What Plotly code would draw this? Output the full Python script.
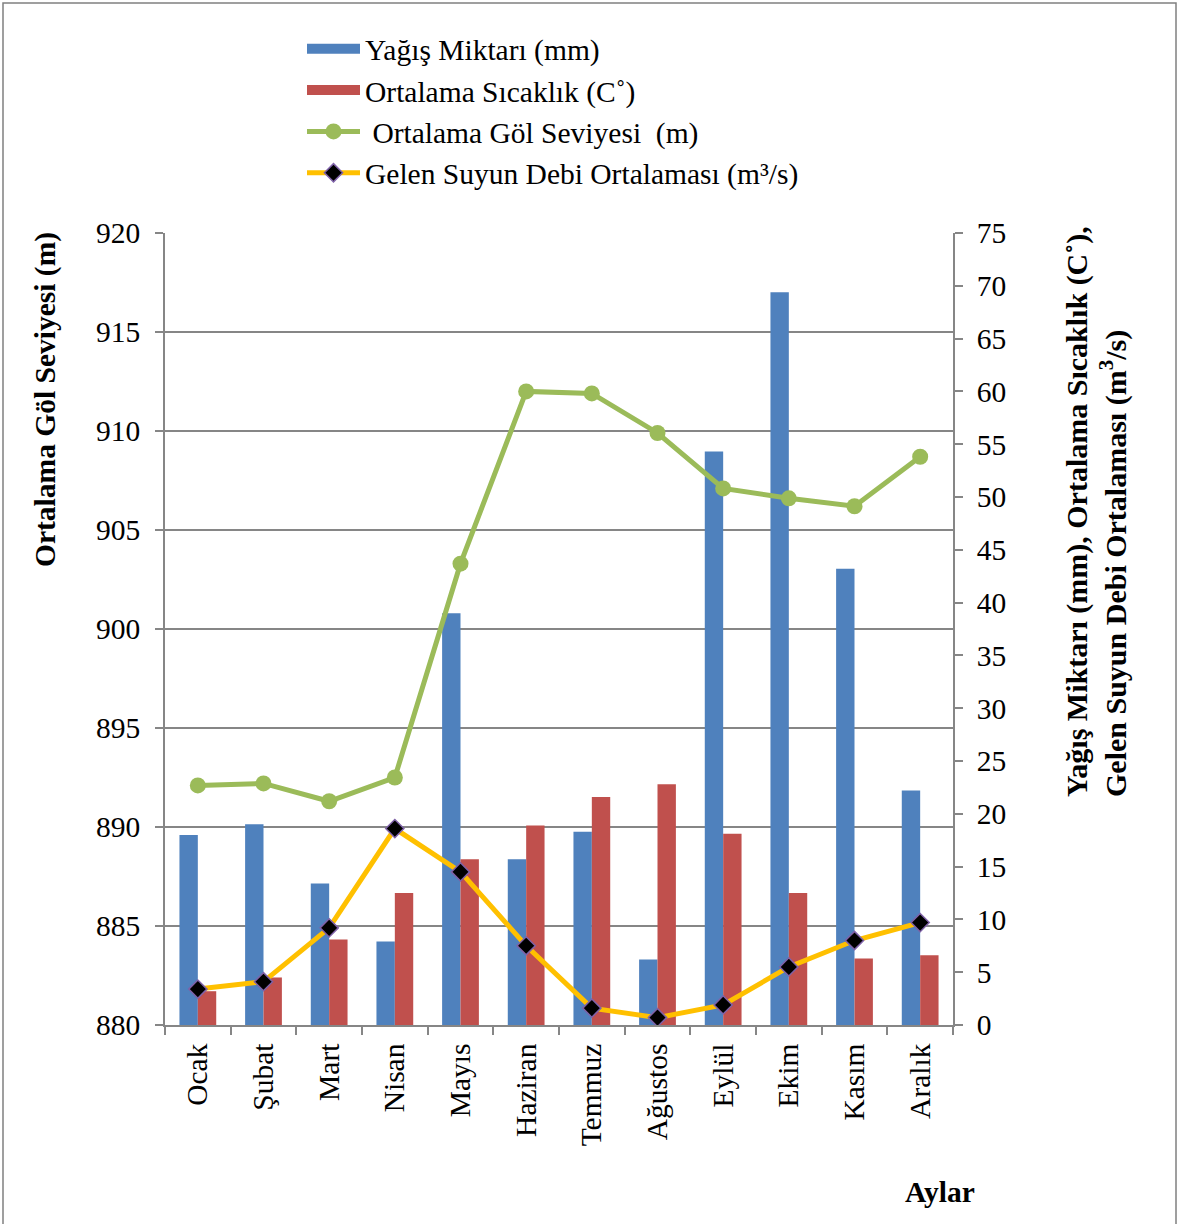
import plotly.graph_objects as go

# Monthly data
months = ["Ocak", "Şubat", "Mart", "Nisan", "Mayıs", "Haziran",
          "Temmuz", "Ağustos", "Eylül", "Ekim", "Kasım", "Aralık"]
yagis_mm = [18.0, 19.0, 13.4, 7.9, 39.0, 15.7, 18.3, 6.2, 54.3, 69.4, 43.2, 22.2]
sicaklik_c = [3.2, 4.5, 8.1, 12.5, 15.7, 18.9, 21.6, 22.8, 18.1, 12.5, 6.3, 6.6]
gol_seviyesi_m = [892.1, 892.2, 891.3, 892.5, 903.3, 912.0, 911.9, 909.9, 907.1, 906.6, 906.2, 908.7]
debi_m3s = [3.4, 4.1, 9.2, 18.6, 14.5, 7.5, 1.6, 0.7, 1.9, 5.5, 8.0, 9.7]

left_ticks = [880, 885, 890, 895, 900, 905, 910, 915, 920]
right_ticks = list(range(0, 80, 5))

BLUE = "#4F81BD"
RED = "#C0504D"
GREEN = "#9BBB59"
YELLOW = "#FFC000"
GRID = "#868686"
FONT = "Liberation Serif"
FS = 29.5

# plot-area geometry in pixels (used to place paper-referenced decorations)
W, H = 1179, 1224
L, R, T, B = 165, 226, 233, 199
PW, PH = W - L - R, H - T - B


def px(x):
    return (x - L) / PW


def py(y):
    return (H - B - y) / PH


fig = go.Figure()

# legend-only entries for the bar series (wide colour swatches)
fig.add_trace(go.Scatter(x=[months[0]], y=[None], mode="lines", name="Yağış Miktarı (mm)",
                         line=dict(color=BLUE, width=14), yaxis="y", hoverinfo="skip"))
fig.add_trace(go.Scatter(x=[months[0]], y=[None], mode="lines", name="Ortalama Sıcaklık (C˚)",
                         line=dict(color=RED, width=14), yaxis="y", hoverinfo="skip"))

fig.add_trace(go.Bar(x=months, y=yagis_mm, marker=dict(color=BLUE, line=dict(width=0)),
                     showlegend=False, yaxis="y"))
fig.add_trace(go.Bar(x=months, y=sicaklik_c, marker=dict(color=RED, line=dict(width=0)),
                     showlegend=False, yaxis="y"))

fig.add_trace(go.Scatter(x=months, y=gol_seviyesi_m, mode="lines+markers",
                         name=" Ortalama Göl Seviyesi  (m)",
                         line=dict(color=GREEN, width=5),
                         marker=dict(symbol="circle", size=16, color=GREEN),
                         yaxis="y2"))
fig.add_trace(go.Scatter(x=months, y=debi_m3s, mode="lines+markers",
                         name="Gelen Suyun Debi Ortalaması (m³/s)",
                         line=dict(color=YELLOW, width=5),
                         marker=dict(symbol="diamond", size=14, color="black",
                                     line=dict(color="#7F62A8", width=1.5)),
                         yaxis="y"))

tickfont = dict(family=FONT, size=FS, color="black")

fig.update_layout(
    width=W, height=H,
    margin=dict(l=L, r=R, t=T, b=B),
    paper_bgcolor="white", plot_bgcolor="white",
    barmode="group", bargap=0.44, bargroupgap=0,
    font=dict(family=FONT, color="black"),
    xaxis=dict(type="category", categoryorder="array", categoryarray=months,
               range=[-0.5, len(months) - 0.5], tickangle=-90, tickfont=tickfont,
               showline=True, linecolor=GRID, linewidth=1.5,
               ticks="outside", ticklen=8, tickcolor=GRID, tickwidth=1.5,
               tickson="boundaries", showgrid=False, ticklabelstandoff=5),
    yaxis=dict(side="right", range=[0, 75], tickvals=right_ticks, tickfont=tickfont,
               showline=True, linecolor=GRID, linewidth=1.5,
               ticks="outside", ticklen=8, tickcolor=GRID, tickwidth=1.5,
               showgrid=False, zeroline=False, ticklabelstandoff=8),
    yaxis2=dict(side="left", overlaying="y", range=[880, 920], tickvals=left_ticks,
                tickfont=tickfont, showline=True, linecolor=GRID, linewidth=1.5,
                ticks="outside", ticklen=8, tickcolor=GRID, tickwidth=1.5,
                showgrid=True, gridcolor=GRID, gridwidth=1.5, zeroline=False,
                ticklabelstandoff=9),
    legend=dict(x=px(302), y=py(23), xanchor="left", yanchor="top",
                font=dict(family=FONT, size=FS, color="black"),
                itemwidth=53, traceorder="normal",
                bgcolor="rgba(0,0,0,0)"),
    showlegend=True,
)

annotations = [
    dict(text="<b>Ortalama Göl Seviyesi (m)</b>", textangle=-90,
         x=px(45), y=py(399), xref="paper", yref="paper",
         xanchor="center", yanchor="middle", showarrow=False,
         font=dict(family=FONT, size=FS, color="black")),
    dict(text="<b>Yağış Miktarı (mm), Ortalama Sıcaklık (C˚),<br>"
              "Gelen Suyun Debi Ortalaması (m<sup>3</sup>/s)</b>",
         textangle=-90, align="left",
         x=px(1096), y=py(512), xref="paper", yref="paper",
         xanchor="center", yanchor="middle", showarrow=False,
         font=dict(family=FONT, size=30, color="black")),
    dict(text="<b>Aylar</b>", x=px(940), y=py(1192), xref="paper", yref="paper",
         xanchor="center", yanchor="middle", showarrow=False,
         font=dict(family=FONT, size=FS, color="black")),
]
fig.update_layout(annotations=annotations)

# outer frame around the whole chart
fig.add_shape(type="rect", xref="paper", yref="paper",
              x0=px(3), x1=px(1176), y0=py(1240), y1=py(3),
              line=dict(color="#808080", width=1.5), fillcolor="rgba(0,0,0,0)",
              layer="below")

fig.write_html("out.html")
